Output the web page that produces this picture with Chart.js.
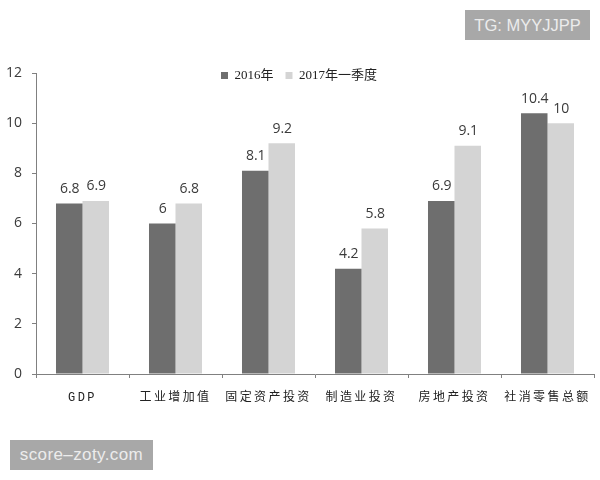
<!DOCTYPE html>
<html><head><meta charset="utf-8">
<script src="https://cdn.jsdelivr.net/npm/chart.js@4/dist/chart.umd.min.js"></script>
<style>
html,body{margin:0;padding:0;background:#fff;width:600px;height:480px;overflow:hidden}
canvas{position:absolute;left:0;top:0}
.mark{position:absolute;background:#a8a8a8;color:#ececec;font-family:"Liberation Sans",sans-serif;height:30px;line-height:30px;text-align:center}
</style></head><body>
<canvas id="c" width="600" height="480"></canvas>
<div class="mark" style="left:465px;top:10px;width:125px;font-size:16.5px">TG: MYYJJPP</div>
<div class="mark" style="left:10px;top:440px;width:143px;font-size:17px;letter-spacing:.4px">score–zoty.com</div>
<script>
const categories=["GDP","工业增加值","固定资产投资","制造业投资","房地产投资","社消零售总额"];
const seriesNames=["2016年","2017年一季度"];
const values2016=[6.8,6,8.1,4.2,6.9,10.4];
const values2017=[6.9,6.8,9.2,5.8,9.1,10];
const colors=["#6e6e6e","#d4d4d4"];
const axisColor="#808080";
const cjk='"Liberation Serif","Noto Sans CJK SC",serif';
const cjkMono='"Liberation Mono","Noto Sans CJK SC",monospace';
const valueLabels={id:"valueLabels",afterDatasetsDraw(chart){
  const ctx=chart.ctx;ctx.save();
  ctx.font='14px "Open Sans",sans-serif';ctx.fillStyle="#3a3a3a";ctx.textAlign="center";ctx.textBaseline="middle";
  chart.data.datasets.forEach((d,i)=>{chart.getDatasetMeta(i).data.forEach((b,j)=>{ctx.fillText(String(d.data[j]),b.x+0.5,b.y-14.5);});});
  ctx.restore();
}};
const legendShift={id:"legendShift",afterLayout(chart){
  const l=chart.legend;const dx=2,dy=19;l.left+=dx;l.right+=dx;l.top+=dy;l.bottom+=dy;
}};
const spacedX={id:"spacedX",beforeDraw(chart){
  const s=chart.scales.x;
  if(!s._spaced){const o=s.drawLabels.bind(s);s.drawLabels=function(a){const c=this.ctx;c.save();c.letterSpacing="2.4px";o(a);c.restore();};s._spaced=true;}
}};
new Chart(document.getElementById("c"),{
  type:"bar",
  data:{labels:categories,datasets:[
    {label:seriesNames[0],data:values2016,backgroundColor:colors[0]},
    {label:seriesNames[1],data:values2017,backgroundColor:colors[1]}
  ]},
  plugins:[valueLabels,legendShift,spacedX],
  options:{
    responsive:false,animation:false,devicePixelRatio:1,
    layout:{padding:{left:0,top:38,right:6,bottom:76}},
    datasets:{bar:{categoryPercentage:0.57,barPercentage:1}},
    plugins:{tooltip:{enabled:false},title:{display:false},
      legend:{position:"top",align:"center",labels:{boxWidth:7,boxHeight:7,padding:12,color:"#222",font:{family:cjk,size:13}}}},
    scales:{
      x:{grid:{drawOnChartArea:false,color:axisColor,tickLength:4,offset:true},border:{color:axisColor},
         ticks:{color:"#222",font:{family:cjkMono,size:12},maxRotation:0,minRotation:0,autoSkip:false,padding:13},
         afterFit(s){s.height=30;}},
      y:{min:0,max:12,grid:{drawOnChartArea:false,color:axisColor,tickLength:4},border:{color:axisColor},
         ticks:{stepSize:2,color:"#3a3a3a",font:{family:'"Open Sans",sans-serif',size:14},padding:10},
         afterFit(s){s.width=36;}}
    }
  }
});
</script></body></html>
